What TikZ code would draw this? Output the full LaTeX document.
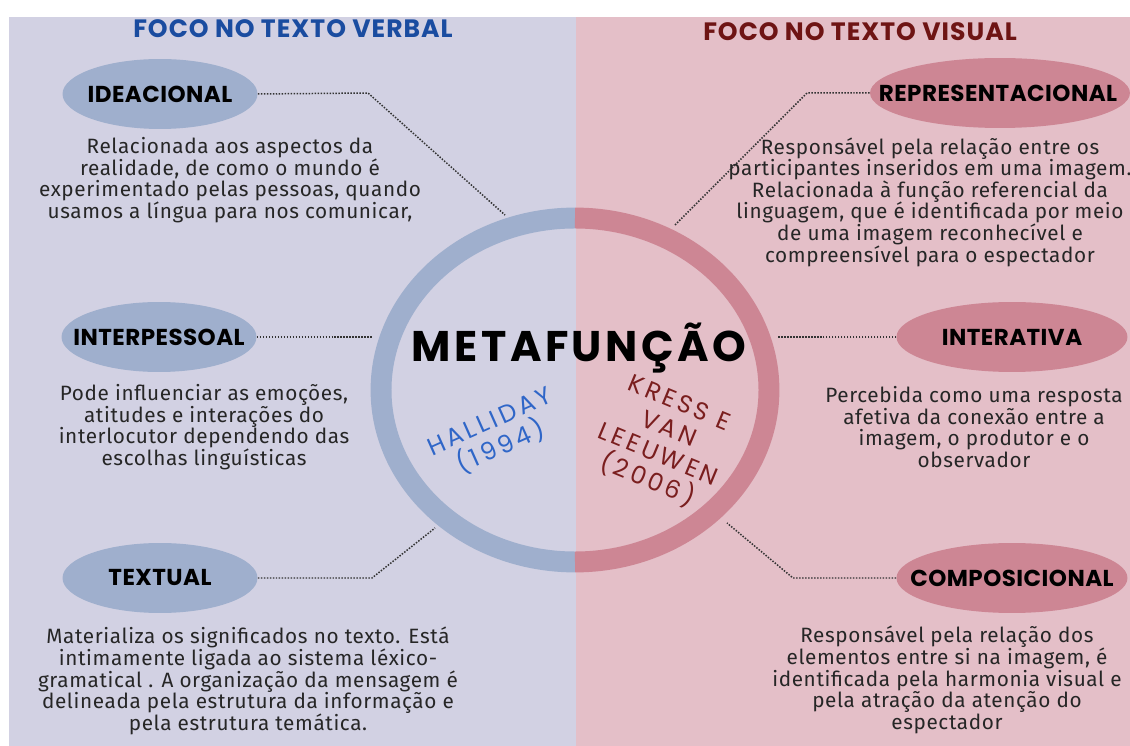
\documentclass[tikz,border=0pt]{standalone}
\usepackage{fontspec}
\setmainfont[LetterSpace=3]{Fira Sans}
\newfontfamily\popfont[LetterSpace=2]{Poppins}
\newfontfamily\titlefont[LetterSpace=4]{Poppins}
\newfontfamily\metafont[LetterSpace=8]{Poppins}
\newfontfamily\widefont[LetterSpace=14]{Poppins}
\usetikzlibrary{shapes.geometric}
\definecolor{lavbg}{HTML}{D2D1E3}
\definecolor{rosebg}{HTML}{E4BFC8}
\definecolor{ringblue}{HTML}{9FAFCD}
\definecolor{ringrose}{HTML}{CD8694}
\definecolor{titleblue}{HTML}{1A4CA0}
\definecolor{titlered}{HTML}{6E1414}
\definecolor{authblue}{HTML}{2F66C8}
\definecolor{authred}{HTML}{7A1E1E}
\definecolor{bodyink}{HTML}{262626}
\tikzset{
  bluebub/.style={ellipse, fill=ringblue, inner sep=0pt, minimum width=3.9cm, minimum height=1.4cm},
  rosebub/.style={ellipse, fill=ringrose, inner sep=0pt, minimum width=4.62cm, minimum height=1.4cm},
  hdr/.style={font=\popfont\bfseries\fontsize{13.1}{14}\selectfont, text=black, inner sep=0pt},
  bodytxt/.style={font=\fontsize{11.8}{12.3}\selectfont, text=bodyink, align=center, inner sep=0pt},
  sidetitle/.style={font=\titlefont\bfseries\fontsize{14.3}{16}\selectfont, inner sep=0pt},
  dotline/.style={line width=0.85pt, dash pattern=on 0.85pt off 0.85pt, black!80},
  author/.style={font=\widefont\fontsize{14}{15.8}\selectfont, align=center, inner sep=0pt}
}

\begin{document}
\begin{tikzpicture}[x=0.02cm, y=-0.02cm]
\useasboundingbox (0,0) rectangle (1130,746);
\fill[white] (0,0) rectangle (1130,746);
\fill[lavbg] (9,17) rectangle (576,746);
\fill[rosebg] (576,17) rectangle (1130,746);

\node[sidetitle, text=titleblue] (verbal) at (293,29) {FOCO NO TEXTO VERBAL};
\node[sidetitle, text=titlered] (visual) at (860,32) {FOCO NO TEXTO VISUAL};

\coordinate (ringc) at (575,390);
\draw[ringblue, line width=11.9pt] ([yshift=3.44cm]ringc) arc[start angle=90, end angle=270, x radius=3.88cm, y radius=3.44cm];
\draw[ringrose, line width=11.9pt] ([yshift=3.44cm]ringc) arc[start angle=90, end angle=-90, x radius=3.88cm, y radius=3.44cm];

\node[font=\metafont\bfseries\fontsize{24.4}{28}\selectfont, inner sep=0pt] (meta) at (579,348) {METAFUNÇÃO};
\node[author, text=authblue, rotate=24] (halliday) at (496,436) {HALLIDAY\\(1994)};
\node[author, text=authred, rotate=-22.5] (kress) at (663,443) {KRESS E\\VAN\\LEEUWEN\\(2006)};

\node[bluebub] (ideac) at (160,94) {};
\node[hdr] (ideacT) at (ideac) {IDEACIONAL};
\node[bodytxt] (ideacB) at (230,180) {Relacionada aos aspectos da\\realidade, de como o mundo é\\experimentado pelas pessoas, quando\\usamos a língua para nos comunicar,};
\coordinate (ideacK) at (368,93);
\coordinate (ideacE) at (505,215);
\draw[dotline] (ideac.east) -- (ideacK) -- (ideacE);

\node[bluebub] (inter) at (159,337) {};
\node[hdr] (interT) at (inter) {INTERPESSOAL};
\node[bodytxt] (interB) at (204,427) {Pode influenciar as emoções,\\atitudes e interações do\\interlocutor dependendo das\\escolhas linguísticas};
\coordinate (interE) at (372,337);
\draw[dotline] (inter.east) -- (interE);

\node[bluebub] (text) at (160,578) {};
\node[hdr] (textT) at (text) {TEXTUAL};
\node[bodytxt] (textB) at (248,681) {Materializa os significados no texto. Está\\intimamente ligada ao sistema léxico-\\gramatical . A organização da mensagem é\\delineada pela estrutura da informação e\\pela estrutura temática.};
\coordinate (textK) at (372,578);
\coordinate (textE) at (435,528);
\draw[dotline] (text.east) -- (textK) -- (textE);

\node[rosebub, minimum width=5.2cm] (repr) at (1000,93) {};
\node[hdr] (reprT) at (998,93) {REPRESENTACIONAL};
\node[bodytxt] (reprB) at (930,202) {Responsável pela relação entre os\\participantes inseridos em uma imagem.\\Relacionada à função referencial da\\linguagem, que é identificada por meio\\de uma imagem reconhecível e\\compreensível para o espectador};
\coordinate (reprK) at (807,93);
\coordinate (reprE) at (675,225);
\draw[dotline] (repr.west) -- (reprK) -- (reprE);

\node[rosebub] (ativa) at (1012,337) {};
\node[hdr] (ativaT) at (ativa) {INTERATIVA};
\node[bodytxt] (ativaB) at (974,427) {Percebida como uma resposta\\afetiva da conexão entre a\\imagem, o produtor e o\\observador};
\coordinate (ativaE) at (778,337);
\draw[dotline] (ativa.west) -- (ativaE);

\node[rosebub] (compo) at (1012,578) {};
\node[hdr] (compoT) at (compo) {COMPOSICIONAL};
\node[bodytxt] (compoB) at (947,680) {Responsável pela relação dos\\elementos entre si na imagem, é\\identificada pela harmonia visual e\\pela atração da atenção do\\espectador};
\coordinate (compoK) at (793,578);
\coordinate (compoE) at (727,523);
\draw[dotline] (compo.west) -- (compoK) -- (compoE);
\end{tikzpicture}
\end{document}
